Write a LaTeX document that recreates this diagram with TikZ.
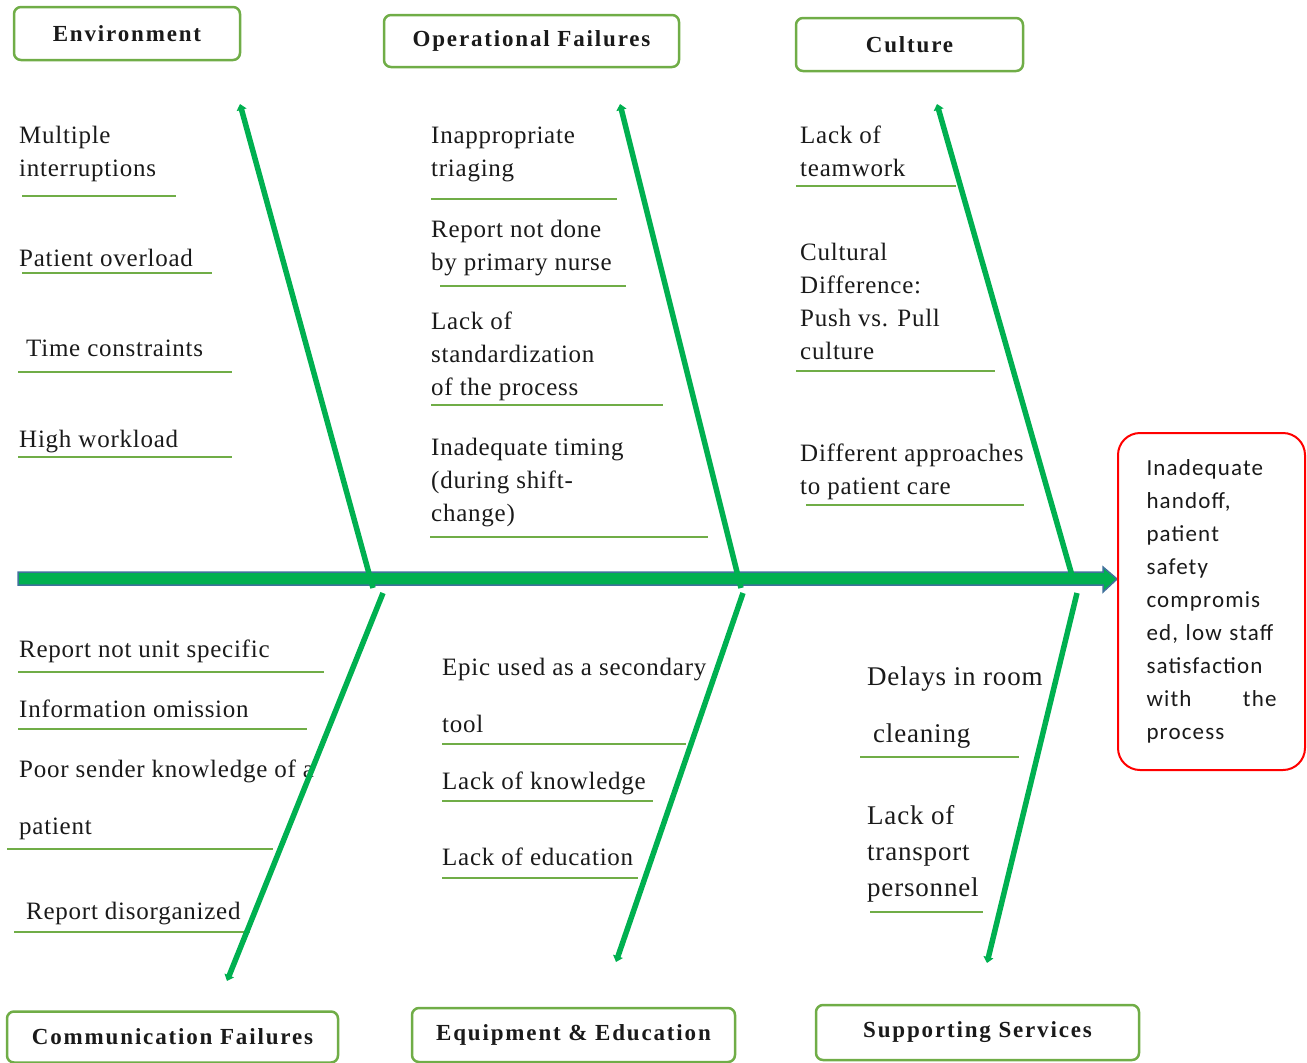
\documentclass[tikz,border=0pt]{standalone}
\usepackage{fontspec}
\setmainfont[LetterSpace=3]{Liberation Serif}
\newfontfamily\titlefont[LetterSpace=8]{Liberation Serif}
\newfontfamily\boxfont[LetterSpace=5]{Carlito}
\usetikzlibrary{arrows.meta}
\definecolor{bone}{HTML}{00B050}
\definecolor{lgreen}{HTML}{70AD47}
\definecolor{spineedge}{HTML}{41719C}
\definecolor{ink}{HTML}{1A1A1A}
\tikzset{
  titlebox/.style={draw=lgreen, line width=2.5pt, rounded corners=7pt, fill=white, inner sep=0pt,
    font=\titlefont\bfseries\fontsize{23}{27}\selectfont, text=ink},
  cause/.style={anchor=base west, align=left, inner sep=0pt, text=ink,
    font=\fontsize{25}{33}\selectfont},
  bigcause/.style={cause, font=\fontsize{27}{36}\selectfont},
  uline/.style={draw=lgreen, line width=2.5pt},
  boneline/.style={draw=bone, line width=5.5pt, -{Triangle[width=10pt,length=6pt]}},
  effect/.style={draw=red, line width=2pt, rounded corners=22pt, inner xsep=28pt, inner ysep=0pt,
    minimum width=187pt, minimum height=337pt, text width=130pt, align=left, text=ink,
    font=\boxfont\fontsize{23}{33}\selectfont}
}
\begin{document}
\begin{tikzpicture}[x=1pt,y=-1pt]
\useasboundingbox (0,0) rectangle (1307,1063);
% spine
\fill[bone, draw=spineedge, line width=1.5pt] (18,572) -- (1103,572) -- (1103,567) -- (1117,579) -- (1103,592) -- (1103,585) -- (18,585) -- cycle;
% effect box
\node[effect] (eff) at (1211.5,601.5) {Inadequate\\ handoff,\\ patient\\ safety\\ compromis\\ ed, low staff\\ satisfaction\\ with\hfill the\\ process};
% bone coordinates
\coordinate (s1) at (373,588); \coordinate (t1) at (240,104);
\coordinate (s2) at (741,588); \coordinate (t2) at (620,104);
\coordinate (s3) at (1073,579); \coordinate (t3) at (937,104);
\coordinate (s4) at (383,593); \coordinate (b4) at (227,981);
\coordinate (s5) at (743,593); \coordinate (b5) at (616,962);
\coordinate (s6) at (1077,593); \coordinate (b6) at (987,963);
% titles
\node[titlebox, minimum width=226pt, minimum height=53pt] (tenv) at (127,33.5) {Environment};
\node[titlebox, minimum width=295pt, minimum height=52pt] (top) at (531.5,41) {Operational Failures};
\node[titlebox, minimum width=227pt, minimum height=53pt] (tcul) at (909.5,44.5) {Culture};
\node[titlebox, minimum width=331pt, minimum height=51pt] (tcom) at (172.5,1037) {Communication Failures};
\node[titlebox, minimum width=323pt, minimum height=54pt] (teq) at (573.5,1035) {Equipment \& Education};
\node[titlebox, minimum width=323pt, minimum height=55pt] (tsup) at (977.5,1032.5) {Supporting Services};
% Environment causes (anchor = baseline of last line)
\node[cause] (e1) at (19,176) {Multiple\\ interruptions};
\draw[uline] (22,196) -- (176,196);
\node[cause] (e2) at (19,266) {Patient overload};
\draw[uline] (22,273) -- (212,273);
\node[cause] (e3) at (26,356) {Time constraints};
\draw[uline] (18,372) -- (232,372);
\node[cause] (e4) at (19,447) {High workload};
\draw[uline] (18,457) -- (232,457);
% Operational causes
\node[cause] (o1) at (431,176) {Inappropriate\\ triaging};
\draw[uline] (431,199) -- (617,199);
\node[cause] (o2) at (431,270) {Report not done\\ by primary nurse};
\draw[uline] (440,286) -- (626,286);
\node[cause] (o3) at (431,395) {Lack of\\ standardization\\ of the process};
\draw[uline] (431,405) -- (663,405);
\node[cause] (o4) at (431,521) {Inadequate timing\\ (during shift-\\ change)};
\draw[uline] (430,537) -- (708,537);
% Culture causes
\node[cause] (c1) at (800,176) {Lack of\\ teamwork};
\draw[uline] (796,186) -- (956,186);
\node[cause] (c2) at (800,359) {Cultural\\ Difference:\\ Push vs. Pull\\ culture};
\draw[uline] (796,371) -- (995,371);
\node[cause] (c3) at (800,494) {Different approaches\\ to patient care};
\draw[uline] (806,505) -- (1024,505);
% Communication causes
\node[cause] (m1) at (19,657) {Report not unit specific};
\draw[uline] (18,672) -- (324,672);
\node[cause] (m2) at (19,717) {Information omission};
\draw[uline] (18,729) -- (307,729);
\node[cause] (m3) at (19,834) {Poor sender knowledge of a\\[24pt] patient};
\draw[uline] (7,849) -- (273,849);
\node[cause] (m4) at (26,919) {Report disorganized};
\draw[uline] (14,932) -- (250,932);
% Equipment causes
\node[cause] (q1) at (442,732) {Epic used as a secondary\\[24pt] tool};
\draw[uline] (442,744) -- (686,744);
\node[cause] (q2) at (442,789) {Lack of knowledge};
\draw[uline] (442,801) -- (653,801);
\node[cause] (q3) at (442,865) {Lack of education};
\draw[uline] (442,878) -- (638,878);
% Supporting causes
\node[bigcause] (p1) at (867,742) {Delays in room\\[21pt] \hspace*{6pt}cleaning};
\draw[uline] (860,757) -- (1019,757);
\node[bigcause] (p2) at (867,896) {Lack of\\ transport\\ personnel};
\draw[uline] (870,912) -- (983,912);
% bones
\draw[boneline] (s1) -- (t1);
\draw[boneline] (s2) -- (t2);
\draw[boneline] (s3) -- (t3);
\draw[boneline] (s4) -- (b4);
\draw[boneline] (s5) -- (b5);
\draw[boneline] (s6) -- (b6);
\end{tikzpicture}
\end{document}
